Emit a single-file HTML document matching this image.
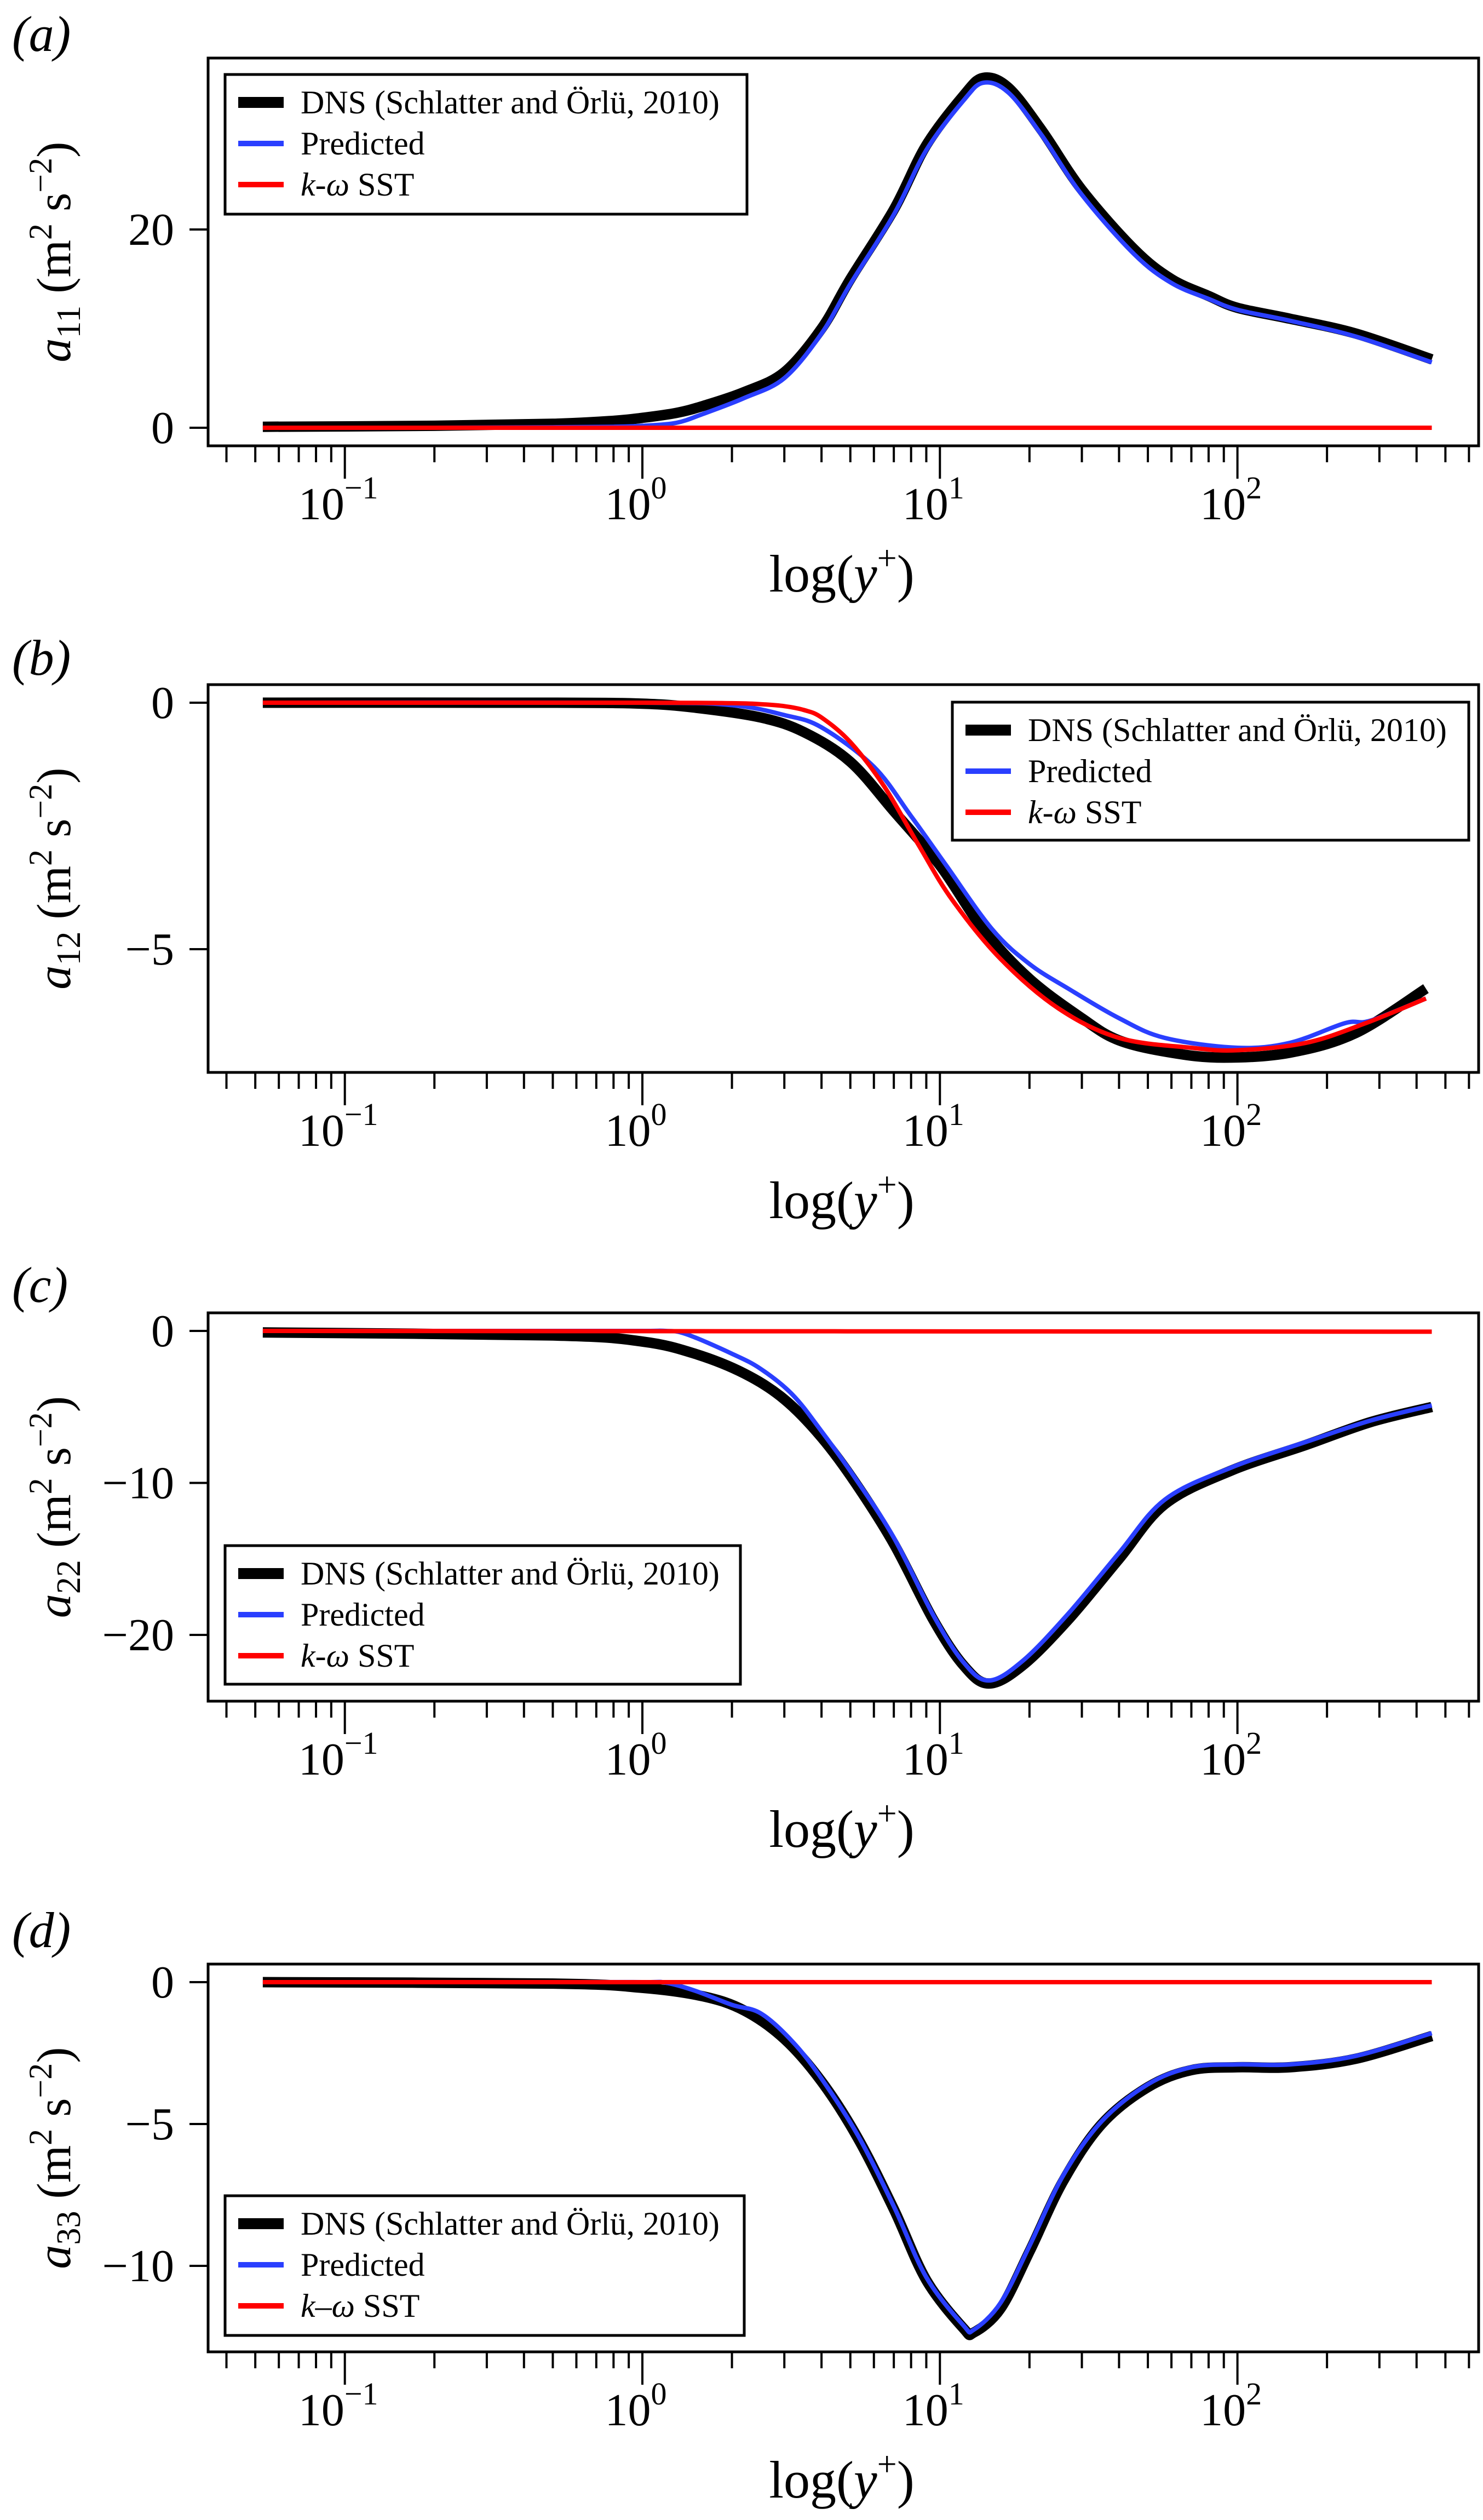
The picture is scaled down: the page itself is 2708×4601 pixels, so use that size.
<!DOCTYPE html>
<html><head><meta charset="utf-8"><style>
html,body{margin:0;padding:0;background:#fff;}
svg{display:block;}
svg text, svg tspan{font-family:"Liberation Serif","Times New Roman",serif;}
</style></head>
<body>
<svg id="fig" width="2708" height="4601" viewBox="0 0 2708 4601" xmlns="http://www.w3.org/2000/svg" font-family="Liberation Serif, serif"></svg>
<script>
// ---- data (y+ locations and values) ----
const a11_dns_x = [0.053,0.2,0.5,0.8,1,1.3,1.6,2.2,3,4,5,7,9,12,14,17,22,30,45,60,80,100,150,250,450];
const a11_dns_y = [0.1,0.2,0.4,0.7,1.0,1.5,2.2,3.6,5.6,10,15,22,28.5,33.5,35.3,34.3,30,24,18,15,13.3,12.1,11,9.5,6.9];
const a11_pred_x = [0.053,0.2,0.5,0.8,1,1.3,1.6,2.2,3,4,5,7,9,12,14,17,22,30,45,60,80,100,150,250,450];
const a11_pred_y = [0.0,0.0,0.05,0.1,0.2,0.5,1.4,3.0,5.0,9.5,14.5,21.5,28,33,34.8,33.8,29.5,23.5,17.5,14.6,13,11.9,10.8,9.2,6.6];
const a11_sst_x = [0.053,450];
const a11_sst_y = [0,0];

const a12_dns_x = [0.053,0.5,1,1.5,2.5,3.5,5,7,10,14,20,30,40,60,90,150,250,430];
const a12_dns_y = [0,0,-0.02,-0.1,-0.3,-0.6,-1.2,-2.2,-3.3,-4.6,-5.6,-6.4,-6.85,-7.1,-7.2,-7.1,-6.7,-5.8];
const a12_pred_x = [0.053,1,2,3,4,6,8,10.5,15,20,27,40,57,100,150,230,280,430];
const a12_pred_y = [0,0,-0.05,-0.25,-0.5,-1.3,-2.3,-3.3,-4.6,-5.3,-5.8,-6.4,-6.8,-7.0,-6.9,-6.5,-6.45,-6.0];
const a12_sst_x = [0.053,1,2,2.5,3,3.5,4,5,6.5,8.5,11,16,25,40,70,100,170,270,430];
const a12_sst_y = [0,0,-0.01,-0.03,-0.07,-0.15,-0.3,-0.8,-1.7,-2.9,-4.0,-5.2,-6.2,-6.8,-7.0,-7.05,-6.9,-6.5,-6.0];

const a22_dns_x = [0.053,0.5,1,1.5,2.2,3,4,5.2,7,9.5,12,14.6,19,27,40,57,95,170,280,450];
const a22_dns_y = [-0.1,-0.3,-0.7,-1.5,-2.8,-4.5,-7,-10,-14,-19,-22,-23.2,-22,-19,-15,-11.4,-9.2,-7.5,-6,-5.0];
const a22_pred_x = [0.053,0.5,1,1.2,1.4,2,2.5,3.2,4,5.2,7,9.5,12,14.6,19,27,40,57,95,170,280,450];
const a22_pred_y = [0,0,0,0,-0.2,-1.5,-2.5,-4.2,-6.6,-9.7,-13.6,-18.7,-21.8,-23,-21.7,-18.6,-14.6,-11.1,-9.0,-7.3,-5.9,-4.9];
const a22_sst_x = [0.053,450];
const a22_sst_y = [0,-0.05];

const a33_dns_x = [0.053,0.5,1,1.6,2.2,3,4,5.3,7,9,12,13,16,20,26,35,50,70,100,150,250,450];
const a33_dns_y = [0,-0.05,-0.2,-0.5,-1.0,-2.0,-3.5,-5.5,-8,-10.5,-12.2,-12.35,-11.5,-9.5,-7,-5,-3.7,-3.1,-3.0,-3.0,-2.7,-1.9];
const a33_pred_x = [0.053,0.5,1,1.2,1.5,2,2.5,3.2,4,5.3,7,9,12,13,16,20,26,35,50,70,100,150,250,450];
const a33_pred_y = [0,0,0,-0.02,-0.3,-0.8,-1.1,-2.1,-3.4,-5.4,-7.9,-10.4,-12.1,-12.25,-11.3,-9.3,-6.8,-4.9,-3.6,-3.0,-2.9,-2.9,-2.6,-1.8];
const a33_sst_x = [0.053,450];
const a33_sst_y = [0,0];

const xTickExps = [-1,0,1,2];
const a11_yticks = [0,20];
const a12_yticks = [0,-5];
const a22_yticks = [0,-10,-20];
const a33_yticks = [0,-5,-10];
const legendLabels = ["DNS (Schlatter and Örlü, 2010)","Predicted","SST"];

// ---- layout ----
const NS="http://www.w3.org/2000/svg";
const svg=document.getElementById('fig');
const XL=380, XR=2700, X0=1173, DEC=543.3;
const FF='Liberation Serif, Times New Roman, serif';
function xs(v){return X0+Math.log10(v)*DEC;}
function mk(tag,attrs,parent){const e=document.createElementNS(NS,tag);for(const k in attrs)e.setAttribute(k,attrs[k]);if(tag==='text')e.setAttribute('font-family',FF);(parent||svg).appendChild(e);return e;}
function pathFrom(px,py){
  let d="M"+px[0].toFixed(1)+","+py[0].toFixed(1);
  for(let i=0;i<px.length-1;i++){
    const p0x=px[Math.max(0,i-1)],p0y=py[Math.max(0,i-1)];
    const p1x=px[i],p1y=py[i],p2x=px[i+1],p2y=py[i+1];
    const p3x=px[Math.min(px.length-1,i+2)],p3y=py[Math.min(px.length-1,i+2)];
    const c1x=p1x+(p2x-p0x)/6,c1y=p1y+(p2y-p0y)/6,c2x=p2x-(p3x-p1x)/6,c2y=p2y-(p3y-p1y)/6;
    d+=" C"+c1x.toFixed(1)+","+c1y.toFixed(1)+" "+c2x.toFixed(1)+","+c2y.toFixed(1)+" "+p2x.toFixed(1)+","+p2y.toFixed(1);
  }
  return d;
}
const panels=[
 {id:'a',sub:'11',top:106,bot:814,y0:781,ppu:18.1,ticks:a11_yticks,labY:93,legend:[411,136,953,255],
  series:[[a11_dns_x,a11_dns_y],[a11_pred_x,a11_pred_y],[a11_sst_x,a11_sst_y]],dash:'-'},
 {id:'b',sub:'12',top:1250,bot:1958,y0:1283,ppu:90,ticks:a12_yticks,labY:1232,legend:[1739,1282,943,252],
  series:[[a12_dns_x,a12_dns_y],[a12_pred_x,a12_pred_y],[a12_sst_x,a12_sst_y]],dash:'-'},
 {id:'c',sub:'22',top:2397,bot:3106,y0:2430,ppu:27.75,ticks:a22_yticks,labY:2377,legend:[411,2822,941,253],
  series:[[a22_dns_x,a22_dns_y],[a22_pred_x,a22_pred_y],[a22_sst_x,a22_sst_y]],dash:'-'},
 {id:'d',sub:'33',top:3586,bot:4294,y0:3619,ppu:51.8,ticks:a33_yticks,labY:3555,legend:[411,4009,948,255],
  series:[[a33_dns_x,a33_dns_y],[a33_pred_x,a33_pred_y],[a33_sst_x,a33_sst_y]],dash:'–'}
];
const colors=['#000000','#2a3fff','#ff0000'];
const widths=[19,8,8];
panels.forEach(p=>{
  const g=mk('g',{});
  
  
  const ys=v=>p.y0-v*p.ppu;
  const lab=mk('text',{x:22,y:p.labY,'font-size':92,'font-style':'italic'},g);
  lab.textContent='('+p.id+')';
  
  
  const cp=mk('clipPath',{id:'clip'+p.id},g);
  mk('rect',{x:XL,y:p.top,width:XR-XL,height:p.bot-p.top},cp);
  const sg=mk('g',{'clip-path':'url(#clip'+p.id+')'},g);
  p.series.forEach((s,i)=>{
    const px=s[0].map(xs),py=s[1].map(ys);
    const path=mk('path',{d:pathFrom(px,py),fill:'none',stroke:colors[i],'stroke-width':widths[i],'stroke-linejoin':'round'},sg);
    
    
  });
  const box=mk('rect',{x:XL,y:p.top,width:XR-XL,height:p.bot-p.top,fill:'none',stroke:'#000','stroke-width':5},g);
  
  
  p.ticks.forEach(t=>{
    const y=ys(t);
    mk('line',{x1:XL-34,x2:XL,y1:y,y2:y,stroke:'#000','stroke-width':4},g);
    const tx=mk('text',{x:XL-62,y:y+28,'font-size':84,'text-anchor':'end'},g);
    tx.textContent=(t<0?'−':'')+Math.abs(t);
    
    
  });
  for(let e=-2;e<=2;e++){for(let m=1;m<=9;m++){
    const v=m*Math.pow(10,e),x=xs(v);
    if(x<XL+20||x>XR-5)continue;
    const L=(m===1)?60:30;
    mk('line',{x1:x,x2:x,y1:p.bot,y2:p.bot+L,stroke:'#000','stroke-width':4},g);
  }}
  xTickExps.forEach(e=>{
    const x=xs(Math.pow(10,e));
    const tx=mk('text',{x:x-12,y:p.bot+134,'font-size':84,'text-anchor':'middle'},g);
    tx.textContent='10';
    const sp=mk('tspan',{dy:-38,'font-size':58},tx);
    sp.textContent=(e<0?'−':'')+Math.abs(e);
    
    
  });
  const xt=mk('text',{x:1537,y:p.bot+266,'font-size':96,'text-anchor':'middle'},g);
  xt.innerHTML='log(<tspan font-style="italic">y</tspan><tspan dy="-40" font-size="64">+</tspan><tspan dy="40">)</tspan>';
  
  
  const cy=(p.top+p.bot)/2;
  const yt=mk('text',{x:0,y:0,'font-size':88,'text-anchor':'middle',transform:'translate(128,'+cy+') rotate(-90)'},g);
  yt.innerHTML='<tspan font-style="italic">a</tspan><tspan dy="18" font-size="62">'+p.sub+'</tspan><tspan dy="-18"> (m</tspan><tspan dy="-34" font-size="60">2</tspan><tspan dy="34"> s</tspan><tspan dy="-34" font-size="60">−2</tspan><tspan dy="34">)</tspan>';
  
  
  const [lx,ly,lw,lh]=p.legend;
  const lg=mk('g',{},g);
  
  
  mk('rect',{x:lx,y:ly,width:lw,height:lh,fill:'#fff',stroke:'#000','stroke-width':5},lg);
  [0,1,2].forEach(i=>{
    const ey=ly+51+i*75;
    mk('line',{x1:lx+24,x2:lx+107,y1:ey,y2:ey,stroke:colors[i],'stroke-width':i===0?20:10},lg);
    const t=mk('text',{x:lx+138,y:ey+20,'font-size':60},lg);
    if(i===2){t.innerHTML='<tspan font-style="italic">k</tspan>'+p.dash+'<tspan font-style="italic">ω</tspan> SST';}
    else t.textContent=legendLabels[i];
    
    
  });
});
</script>
</body></html>
